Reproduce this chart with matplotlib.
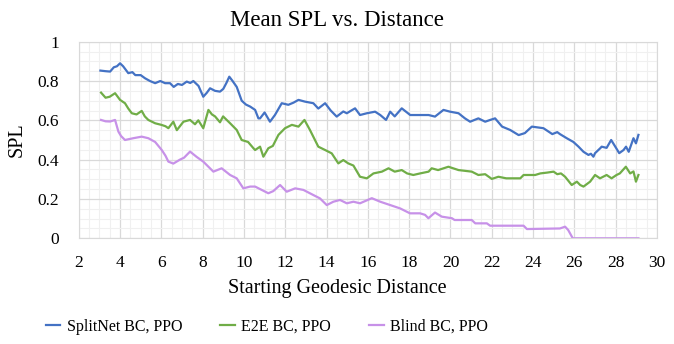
import matplotlib
matplotlib.use("Agg")
import matplotlib.pyplot as plt
from matplotlib.ticker import MultipleLocator, FuncFormatter

# ---- data ----
splitnet_x = [3.05, 3.3, 3.52, 3.7, 3.85, 4.0, 4.15, 4.4, 4.6, 4.74, 5.0, 5.21, 5.45, 5.7, 5.95,
              6.18, 6.42, 6.6, 6.8, 7.0, 7.23, 7.4, 7.55, 7.8, 8.03, 8.2, 8.36, 8.6, 8.84, 9.0,
              9.15, 9.29, 9.45, 9.65, 9.89, 10.1, 10.3, 10.54, 10.7, 10.78, 11.0, 11.26, 11.5,
              11.83, 12.15, 12.4, 12.64, 12.96, 13.36, 13.6, 13.93, 14.2, 14.49, 14.81, 14.98,
              15.2, 15.38, 15.62, 15.95, 16.35, 16.6, 16.88, 17.08, 17.3, 17.64, 18.05, 18.53,
              18.94, 19.25, 19.66, 19.98, 20.39, 20.7, 20.95, 21.35, 21.68, 21.92, 22.16, 22.5,
              22.89, 23.3, 23.6, 23.94, 24.5, 24.93, 25.17, 25.3, 25.63, 25.95, 26.2, 26.44,
              26.68, 26.8, 26.92, 27.0, 27.25, 27.32, 27.56, 27.78, 27.98, 28.17, 28.38, 28.5,
              28.63, 28.86, 28.98, 29.1]
splitnet_y = [0.853, 0.85, 0.848, 0.87, 0.875, 0.89, 0.875, 0.84, 0.845, 0.83, 0.83, 0.814, 0.80,
              0.789, 0.80, 0.789, 0.789, 0.77, 0.785, 0.78, 0.797, 0.79, 0.80, 0.775, 0.72, 0.74,
              0.763, 0.75, 0.746, 0.76, 0.79, 0.822, 0.80, 0.77, 0.70, 0.68, 0.67, 0.653, 0.61,
              0.61, 0.64, 0.593, 0.627, 0.687, 0.679, 0.69, 0.704, 0.695, 0.687, 0.66, 0.687,
              0.65, 0.619, 0.645, 0.636, 0.65, 0.661, 0.627, 0.636, 0.644, 0.627, 0.602, 0.644,
              0.62, 0.661, 0.627, 0.627, 0.627, 0.619, 0.653, 0.644, 0.636, 0.61, 0.593, 0.61,
              0.593, 0.602, 0.61, 0.568, 0.551, 0.525, 0.535, 0.568, 0.56, 0.53, 0.54, 0.53,
              0.509, 0.49, 0.466, 0.44, 0.424, 0.43, 0.415, 0.433, 0.458, 0.466, 0.46, 0.50,
              0.466, 0.433, 0.449, 0.466, 0.44, 0.509, 0.483, 0.526]

e2e_x = [3.08, 3.3, 3.5, 3.76, 4.0, 4.24, 4.4, 4.57, 4.8, 5.05, 5.2, 5.37, 5.7, 6.0, 6.2, 6.34,
         6.58, 6.75, 7.07, 7.39, 7.63, 7.79, 8.03, 8.28, 8.45, 8.6, 8.84, 8.99, 9.33, 9.65, 9.89,
         10.2, 10.46, 10.54, 10.78, 10.94, 11.18, 11.4, 11.67, 11.99, 12.32, 12.64, 12.93, 13.2,
         13.6, 13.93, 14.25, 14.57, 14.81, 15.05, 15.3, 15.62, 15.95, 16.27, 16.68, 17.0, 17.3,
         17.64, 17.9, 18.2, 18.53, 18.94, 19.09, 19.4, 19.9, 20.39, 21.03, 21.35, 21.68, 22.0,
         22.32, 22.7, 23.13, 23.38, 23.54, 24.1, 24.35, 24.67, 24.99, 25.17, 25.35, 25.55, 25.87,
         26.12, 26.28, 26.44, 26.76, 27.0, 27.24, 27.56, 27.8, 28.04, 28.2, 28.49, 28.7, 28.86,
         28.98, 29.1]
e2e_y = [0.741, 0.715, 0.72, 0.738, 0.704, 0.687, 0.66, 0.636, 0.63, 0.648, 0.62, 0.602, 0.585,
         0.577, 0.57, 0.56, 0.593, 0.55, 0.593, 0.602, 0.58, 0.60, 0.56, 0.653, 0.63, 0.62, 0.59,
         0.62, 0.585, 0.551, 0.50, 0.49, 0.458, 0.449, 0.466, 0.415, 0.458, 0.47, 0.526, 0.56,
         0.577, 0.568, 0.602, 0.55, 0.466, 0.449, 0.432, 0.381, 0.398, 0.381, 0.37, 0.313, 0.305,
         0.33, 0.339, 0.356, 0.339, 0.347, 0.33, 0.322, 0.33, 0.339, 0.356, 0.347, 0.364, 0.347,
         0.339, 0.322, 0.326, 0.302, 0.313, 0.305, 0.305, 0.305, 0.322, 0.322, 0.33, 0.334,
         0.339, 0.326, 0.33, 0.313, 0.271, 0.288, 0.271, 0.263, 0.288, 0.322, 0.305, 0.322,
         0.305, 0.322, 0.33, 0.364, 0.33, 0.34, 0.288, 0.322]

blind_x = [3.08, 3.3, 3.52, 3.76, 3.92, 4.05, 4.24, 4.64, 5.05, 5.37, 5.7, 6.02, 6.2, 6.34, 6.58,
           6.9, 7.1, 7.39, 7.71, 8.03, 8.52, 8.92, 9.33, 9.65, 9.97, 10.3, 10.54, 10.86, 11.18,
           11.42, 11.75, 12.07, 12.48, 12.88, 13.36, 13.68, 14.01, 14.33, 14.65, 14.98, 15.3,
           15.62, 16.19, 16.6, 17.08, 17.56, 18.04, 18.53, 18.77, 18.93, 19.25, 19.58, 20.07,
           20.2, 21.03, 21.2, 21.76, 21.92, 23.54, 23.7, 25.3, 25.55, 25.7, 25.92, 29.1]
blind_y = [0.602, 0.595, 0.594, 0.602, 0.543, 0.52, 0.50, 0.509, 0.517, 0.509, 0.49, 0.449, 0.42,
           0.39, 0.38, 0.40, 0.41, 0.441, 0.414, 0.39, 0.339, 0.356, 0.322, 0.305, 0.254, 0.263,
           0.263, 0.246, 0.229, 0.24, 0.271, 0.237, 0.254, 0.246, 0.22, 0.203, 0.169, 0.186,
           0.195, 0.178, 0.186, 0.178, 0.204, 0.186, 0.169, 0.152, 0.127, 0.127, 0.119, 0.102,
           0.131, 0.11, 0.102, 0.093, 0.093, 0.076, 0.076, 0.064, 0.064, 0.047, 0.05, 0.059,
           0.042, 0.0, 0.0]

series_labels = ["SplitNet BC, PPO", "E2E BC, PPO", "Blind BC, PPO"]
series_colors = ["#4472C4", "#70AD47", "#C791E8"]

plt.rcParams["font.family"] = ["Liberation Serif", "DejaVu Serif"]

fig = plt.figure(figsize=(6.74, 3.44), dpi=100)
ax = fig.add_axes([0.1168, 0.3073, 0.858, 0.5715])

for xs, ys, lab, col in zip([splitnet_x, e2e_x, blind_x], [splitnet_y, e2e_y, blind_y],
                            series_labels, series_colors):
    ax.plot(xs, ys, color=col, lw=1.6, label=lab, solid_joinstyle="round")

ax.set_xlim(2, 30)
ax.set_ylim(0, 1)
ax.xaxis.set_major_locator(MultipleLocator(2))
ax.xaxis.set_minor_locator(MultipleLocator(0.5))
ax.yaxis.set_major_locator(MultipleLocator(0.2))
ax.yaxis.set_minor_locator(MultipleLocator(0.05))
ax.yaxis.set_major_formatter(FuncFormatter(lambda v, p: "%g" % round(v, 2)))

ax.grid(which="major", color="#D9D9D9", lw=0.9)
ax.grid(which="minor", color="#F0F0F0", lw=0.8)
ax.set_axisbelow(True)
for s in ax.spines.values():
    s.set_color("#D9D9D9")
ax.tick_params(which="both", length=0, labelsize=12.5, colors="black")
ax.tick_params(axis="x", pad=12)
ax.tick_params(axis="y", pad=14)

# title and x label are centred on the figure, not the plot area
cx = (0.5 - 0.1168) / 0.858
ax.set_title("Mean SPL vs. Distance", fontsize=16.5, pad=11, x=cx)
ax.set_xlabel("Starting Geodesic Distance", fontsize=14.5)
ax.xaxis.set_label_coords(cx, -0.205)
ax.set_ylabel("SPL", fontsize=14.5, labelpad=8)

fig.legend(loc="lower center", bbox_to_anchor=(0.396, -0.015), ncol=3, frameon=False,
           fontsize=11.5, handlelength=0.9, handletextpad=0.4, columnspacing=2.4)

fig.savefig("out.png", dpi=100)
